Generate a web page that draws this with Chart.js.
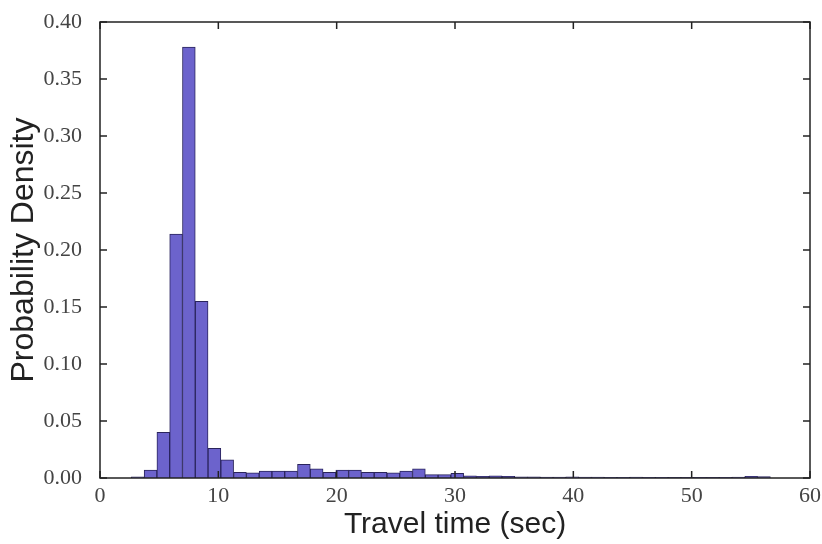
<!DOCTYPE html>
<html>
<head>
<meta charset="utf-8">
<script src="https://cdn.jsdelivr.net/npm/chart.js@4.4.1/dist/chart.umd.min.js"></script>
<style>
  body { margin: 0; background: #fff; }
  canvas { display: block; }
</style>
</head>
<body>
<canvas id="histChart" width="822" height="544"></canvas>
<script>
// histogram bins (centre of each bin, seconds)
const binCenters = [
  3.19, 4.27, 5.35, 6.43, 7.51, 8.59, 9.67, 10.75, 11.83, 12.91,
  13.99, 15.07, 16.15, 17.23, 18.31, 19.39, 20.47, 21.55, 22.63, 23.71,
  24.79, 25.87, 26.95, 28.03, 29.11, 30.19, 31.27, 32.35, 33.43, 34.51,
  35.59, 36.67, 37.75, 38.83, 39.91, 40.99, 42.07, 43.15, 44.23, 45.31,
  46.39, 47.47, 48.55, 49.63, 50.71, 51.79, 52.87, 53.95, 55.03, 56.11
];

// probability density for each bin
const density = [
  0.001, 0.007, 0.040, 0.214, 0.378, 0.155, 0.026, 0.016, 0.005, 0.0045,
  0.006, 0.006, 0.006, 0.012, 0.008, 0.005, 0.007, 0.007, 0.005, 0.005,
  0.0045, 0.006, 0.008, 0.003, 0.003, 0.004, 0.002, 0.0015, 0.002, 0.0015,
  0.001, 0.001, 0.0008, 0.0008, 0.001, 0.0008, 0.0008, 0.0006, 0.0006, 0.0008,
  0.0006, 0.0006, 0.0005, 0.0005, 0.0005, 0.0005, 0.0006, 0.0008, 0.0015, 0.0012
];

const xTicks = [0, 10, 20, 30, 40, 50, 60];
const yTicks = [0, 0.05, 0.10, 0.15, 0.20, 0.25, 0.30, 0.35, 0.40];

const tickFont = { family: 'Liberation Serif', size: 22 };

// box around the plot with inward tick marks on all four sides
const frame = {
  id: 'frame',
  afterDatasetsDraw(chart) {
    const { ctx, chartArea: a, scales: { x, y } } = chart;
    ctx.save();
    ctx.strokeStyle = '#222';
    ctx.lineWidth = 1.5;
    ctx.strokeRect(a.left, a.top, a.right - a.left, a.bottom - a.top);
    ctx.beginPath();
    xTicks.forEach(v => {
      const px = x.getPixelForValue(v);
      ctx.moveTo(px, a.bottom); ctx.lineTo(px, a.bottom - 7);
      ctx.moveTo(px, a.top); ctx.lineTo(px, a.top + 7);
    });
    yTicks.forEach(v => {
      const py = y.getPixelForValue(v);
      ctx.moveTo(a.left, py); ctx.lineTo(a.left + 7, py);
      ctx.moveTo(a.right, py); ctx.lineTo(a.right - 7, py);
    });
    ctx.stroke();
    ctx.restore();
  }
};

const points = binCenters.map((c, i) => ({ x: c, y: density[i] }));

new Chart(document.getElementById('histChart'), {
  type: 'bar',
  data: {
    datasets: [{
      data: points,
      backgroundColor: 'rgb(108, 99, 204)',
      borderColor: 'rgb(42, 36, 92)',
      borderWidth: 1,
      barPercentage: 1,
      categoryPercentage: 1
    }]
  },
  options: {
    responsive: false,
    animation: false,
    layout: { padding: { left: 0, top: 22, right: 12, bottom: 0 } },
    plugins: { legend: { display: false }, tooltip: { enabled: false } },
    scales: {
      x: {
        type: 'linear',
        min: 0,
        max: 60,
        offset: false,
        afterFit: s => { s.height = 66; s.paddingLeft = 0; s.paddingRight = 0; },
        afterBuildTicks: s => { s.ticks = xTicks.map(v => ({ value: v })); },
        grid: { display: false, drawTicks: false },
        border: { display: false },
        ticks: { font: tickFont, color: '#444', padding: 5, maxRotation: 0 },
        title: { display: true, text: 'Travel time (sec)', font: { family: 'Liberation Sans', size: 30 }, color: '#222', padding: { top: 0, bottom: 1 } }
      },
      y: {
        min: 0,
        max: 0.4,
        afterFit: s => { s.width = 100; s.paddingTop = 0; s.paddingBottom = 0; },
        afterBuildTicks: s => { s.ticks = yTicks.map(v => ({ value: v })); },
        grid: { display: false, drawTicks: false },
        border: { display: false },
        ticks: { font: tickFont, color: '#444', padding: 18, callback: v => v.toFixed(2) },
        title: { display: true, text: 'Probability Density', font: { family: 'Liberation Sans', size: 32 }, color: '#222', padding: { top: 5, bottom: 0 } }
      }
    }
  },
  plugins: [frame]
});
</script>
</body>
</html>
